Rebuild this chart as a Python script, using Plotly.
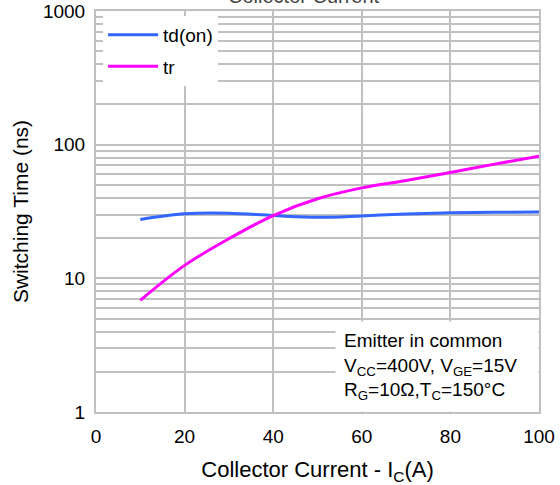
import plotly.graph_objects as go

# Data
ic = [10, 20, 30, 40, 50, 60, 70, 80, 90, 100]
td_on = [27.6, 30.4, 30.7, 29.5, 28.6, 29.3, 30.3, 30.9, 31.2, 31.3]
tr = [6.85, 12.5, 19.8, 29.5, 39.4, 47.5, 54.0, 62.0, 71.5, 82.0]

x_ticks = [0, 20, 40, 60, 80, 100]
y_ticks = [1, 10, 100, 1000]
y_minor = [m * d for d in [1, 10, 100] for m in range(2, 10)]

FONT = "Liberation Sans, Arial, sans-serif"
GRID = "#c0c0c0"

fig = go.Figure()
fig.add_trace(go.Scatter(x=ic, y=td_on, mode="lines", name="td(on)", legendgroup="a",
                         line=dict(color="#3366ff", width=3, shape="spline")))
fig.add_trace(go.Scatter(x=ic, y=tr, mode="lines", name="tr", legendgroup="b",
                         line=dict(color="#ff00ff", width=3, shape="spline")))

fig.update_layout(
    width=560, height=485,
    margin=dict(l=96, r=21, t=11, b=73, autoexpand=False),
    paper_bgcolor="white", plot_bgcolor="white",
    font=dict(family=FONT, size=18, color="black"),
    showlegend=True,
    legend=dict(x=0.016, y=0.988, xanchor="left", yanchor="top", bgcolor="white",
                borderwidth=0, font=dict(size=19), itemwidth=50,
                tracegroupgap=4),
)
fig.update_xaxes(range=[0, 100], tickvals=x_ticks, showgrid=True, gridcolor=GRID,
                 gridwidth=2, showline=True, linecolor=GRID, linewidth=2,
                 mirror=True, ticks="", zeroline=False, automargin=False,
                 tickfont=dict(size=19), ticklabelstandoff=6,
                 title=dict(text="Collector Current - I<sub>C</sub>(A)", font=dict(size=22), standoff=16))
fig.update_yaxes(type="log", range=[0, 3], tickvals=y_ticks, ticktext=["1", "10", "100", "1000"],
                 showgrid=True, gridcolor=GRID, gridwidth=2, showline=True,
                 linecolor=GRID, linewidth=2, mirror=True, ticks="", automargin=False,
                 minor=dict(tickvals=y_minor, showgrid=True, gridcolor=GRID, gridwidth=2),
                 tickfont=dict(size=19), ticklabelstandoff=5,
                 title=dict(text="Switching Time (ns)", font=dict(size=21), standoff=9))

fig.add_annotation(
    xref="paper", yref="paper", x=1, y=0, xanchor="right", yanchor="bottom",
    text="Emitter in common<br>V<sub>CC</sub>=400V, V<sub>GE</sub>=15V<br>R<sub>G</sub>=10Ω,T<sub>C</sub>=150°C",
    align="left", showarrow=False, bgcolor="white", borderpad=8,
    width=186, font=dict(size=19),
)
fig.add_annotation(
    xref="paper", yref="paper", x=0.47, y=1, yshift=2, xanchor="center", yanchor="bottom",
    text="Collector Current", showarrow=False, font=dict(size=20, color="#444444"),
)

fig.write_html("out.html", config={"displayModeBar": False},
               post_script="document.body.style.margin='0px';")
